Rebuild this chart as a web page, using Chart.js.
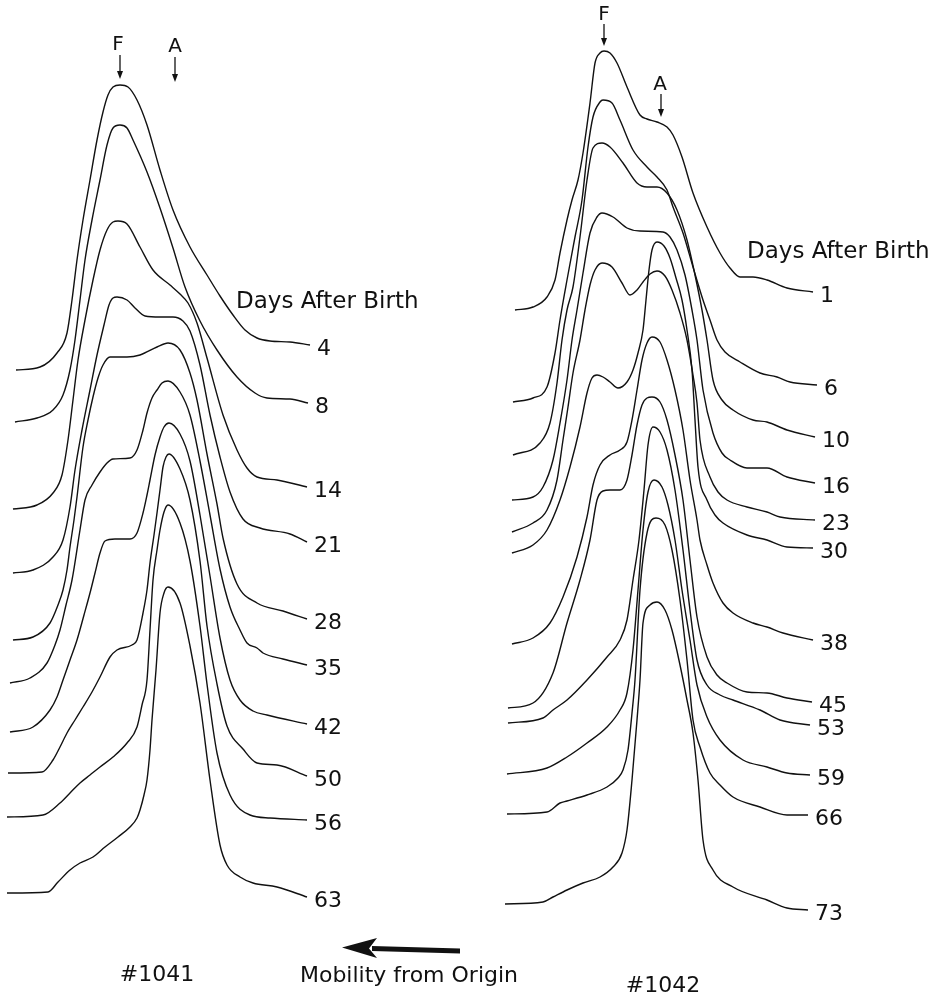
<!DOCTYPE html>
<html>
<head>
<meta charset="utf-8">
<script src="https://cdn.jsdelivr.net/npm/chart.js@4.4.1/dist/chart.umd.min.js"></script>
<style>
html,body{margin:0;padding:0;background:#fff;}
#wrap{width:936px;height:999px;}
</style>
</head>
<body>
<div id="wrap"><canvas id="chart"></canvas></div>
<script>
// densitometer traces as [mobility, height] pairs (figure units)
const days1041 = ['4','8','14','21','28','35','42','50','56','63'];
const trace1041 = [
  [[16,370],[40,367],[57,353],[67,333],[72,300],[77,260],[83,220],[90,180],[97,140],[103,112],[108,95],[113,87],[120,85],[128,87],[137,100],[147,125],[160,170],[173,210],[190,247],[207,275],[220,296],[233,315],[245,330],[257,338],[270,341],[290,342],[310,345]],
  [[15,422],[37,418],[53,410],[63,395],[70,370],[75,340],[80,300],[85,260],[92,220],[100,180],[107,145],[113,128],[120,125],[127,128],[133,140],[147,172],[160,208],[173,248],[185,287],[200,321],[217,350],[237,377],[255,393],[267,398],[290,399],[308,403]],
  [[13,509],[37,505],[53,493],[62,475],[68,440],[73,400],[78,360],[85,320],[93,280],[100,250],[107,230],[113,222],[118,221],[127,224],[140,247],[153,270],[170,285],[180,294],[188,303],[197,323],[207,358],[223,415],[237,450],[247,468],[257,477],[277,480],[307,487]],
  [[13,573],[33,570],[53,557],[63,540],[70,507],[75,470],[82,430],[90,390],[97,355],[104,325],[109,305],[113,298],[117,297],[127,300],[135,308],[145,316],[160,317],[173,317],[183,321],[190,331],[200,365],[210,415],[220,457],[230,492],[243,519],[260,528],[290,534],[307,542]],
  [[13,640],[33,637],[50,623],[58,605],[63,590],[67,570],[70,547],[74,520],[77,497],[83,447],[88,420],[93,397],[98,378],[103,365],[110,357],[127,357],[140,355],[157,347],[168,343],[180,350],[190,373],[197,400],[207,454],[217,504],[223,538],[237,584],[257,603],[283,611],[307,619]],
  [[10,683],[30,678],[47,663],[55,645],[60,630],[66,605],[72,580],[80,530],[85,500],[92,485],[100,472],[107,463],[113,459],[130,458],[137,450],[143,430],[147,413],[152,398],[157,390],[162,383],[168,381],[180,392],[190,415],[200,461],[210,515],[220,569],[230,607],[240,630],[247,643],[257,648],[263,653],[283,659],[307,665]],
  [[10,732],[33,727],[50,710],[57,697],[63,680],[70,660],[77,640],[84,615],[90,593],[95,573],[100,553],[105,541],[115,539],[130,539],[137,533],[143,513],[147,495],[150,480],[155,455],[160,437],[164,427],[169,423],[180,434],[190,461],[200,515],[210,576],[220,638],[230,680],[240,700],[253,711],[267,715],[307,724]],
  [[8,773],[42,772],[53,760],[60,747],[67,733],[75,720],[83,707],[92,692],[100,677],[110,657],[117,650],[132,645],[137,640],[143,613],[147,590],[150,563],[154,535],[157,513],[160,490],[163,467],[166,457],[169,454],[180,469],[190,500],[200,561],[207,626],[217,684],[227,726],[243,749],[257,763],[277,765],[307,776]],
  [[7,817],[43,815],[60,803],[70,793],[80,783],[90,775],[100,767],[113,757],[127,743],[137,727],[142,705],[147,680],[150,630],[153,580],[157,550],[160,530],[164,512],[168,505],[180,523],[190,561],[200,626],[207,684],[217,753],[230,795],[250,815],[270,818],[307,820]],
  [[7,893],[48,892],[58,882],[70,870],[80,863],[93,857],[105,847],[118,837],[130,827],[137,818],[140,810],[144,795],[147,780],[150,750],[152,720],[156,670],[160,613],[164,593],[168,587],[180,603],[190,646],[200,703],[210,780],[220,845],[227,865],[240,877],[253,883],[277,887],[307,897]]
];

const days1042 = ['1','6','10','16','23','30','38','45','53','59','66','73'];
const trace1042 = [
  [[515,310],[533,307],[547,297],[555,280],[560,253],[567,220],[572,200],[578,180],[583,153],[590,103],[595,63],[600,53],[604,51],[610,53],[617,63],[627,87],[640,115],[647,119],[657,122],[667,127],[673,135],[682,157],[693,193],[707,227],[720,253],[730,268],[740,277],[753,277],[767,280],[787,288],[813,292]],
  [[513,402],[533,398],[547,387],[555,353],[560,320],[567,280],[575,237],[582,200],[588,147],[593,117],[600,102],[603,100],[612,103],[620,120],[633,150],[647,167],[657,177],[667,190],[673,207],[683,233],[693,267],[703,300],[710,320],[717,340],[725,352],[740,362],[760,373],[777,377],[790,382],[817,385]],
  [[513,455],[540,443],[550,423],[557,383],[562,340],[567,310],[573,287],[580,237],[587,180],[593,148],[602,143],[610,147],[623,163],[637,183],[647,187],[657,187],[667,193],[677,210],[687,240],[695,275],[702,310],[707,340],[713,380],[722,400],[733,410],[753,420],[767,422],[787,430],[815,437]],
  [[512,500],[533,497],[543,487],[553,460],[560,423],[567,380],[572,340],[577,310],[583,273],[590,233],[597,217],[602,213],[613,217],[627,228],[640,231],[663,232],[670,237],[677,250],[685,275],[692,310],[697,340],[703,390],[713,433],[722,453],[730,460],[747,468],[767,468],[787,477],[815,483]],
  [[512,532],[533,523],[547,510],[557,480],[563,440],[568,407],[573,373],[580,340],[585,310],[590,285],[595,270],[602,263],[612,267],[622,283],[630,295],[637,290],[643,282],[650,274],[657,271],[665,276],[672,290],[680,313],[687,340],[693,375],[697,403],[700,440],[710,477],[718,492],[727,500],[747,507],[767,512],[780,517],[815,520]],
  [[512,553],[533,545],[547,530],[560,500],[570,467],[580,427],[587,393],[592,378],[597,375],[603,377],[610,382],[618,388],[627,382],[633,370],[638,353],[643,330],[646,300],[649,270],[652,250],[657,242],[664,246],[670,258],[676,278],[682,300],[687,330],[692,370],[695,420],[698,467],[707,500],[715,515],[723,523],[747,535],[767,540],[787,547],[813,548]],
  [[512,644],[533,638],[550,623],[563,597],[577,557],[587,517],[593,485],[600,465],[610,455],[620,450],[627,442],[632,420],[637,390],[642,360],[647,343],[652,337],[660,342],[667,360],[675,390],[683,430],[690,480],[697,520],[700,540],[707,565],[713,583],[723,603],[733,613],[753,623],[767,627],[783,633],[813,640]],
  [[508,708],[533,703],[553,673],[567,623],[580,580],[590,540],[597,500],[603,491],[610,490],[620,490],[627,480],[632,455],[637,425],[642,405],[647,398],[652,397],[660,402],[667,420],[675,455],[683,500],[690,560],[697,617],[707,657],[717,675],[727,683],[747,692],[767,693],[787,698],[812,702]],
  [[508,723],[543,718],[553,710],[567,700],[587,680],[607,657],[620,640],[627,620],[633,580],[639,540],[644,490],[648,445],[653,427],[660,432],[667,450],[675,490],[683,550],[690,610],[697,660],[707,685],[720,695],[733,700],[760,710],[780,720],[810,725]],
  [[507,774],[547,768],[567,757],[587,743],[607,727],[620,710],[627,693],[633,650],[638,590],[643,530],[648,492],[654,480],[662,487],[668,505],[675,540],[682,590],[690,640],[697,685],[707,717],[720,740],[743,760],[767,767],[787,773],[810,775]],
  [[507,814],[547,812],[560,803],[567,801],[587,795],[607,787],[618,778],[623,770],[628,750],[632,713],[635,680],[640,590],[647,533],[656,518],[665,525],[672,550],[680,600],[687,660],[693,720],[700,747],[710,773],[720,785],[733,797],[760,807],[787,815],[808,815]],
  [[505,904],[543,902],[553,897],[567,890],[583,883],[600,877],[613,867],[622,853],[627,830],[632,780],[637,720],[640,680],[643,623],[650,605],[657,602],[665,610],[672,630],[680,665],[687,700],[693,733],[698,780],[703,840],[713,870],[733,887],[767,900],[787,908],[808,910]]
];

// band markers (mobility of F and A fractions)
const bandNames = ['F','A'];
const bandPos1041 = [120,175];
const bandPos1042 = [604,661];

const datasets = [];
trace1041.concat(trace1042).forEach(t=>{
  datasets.push({
    data:t.map(p=>({x:p[0],y:p[1]})),
    showLine:true, borderColor:'#111', borderWidth:1.4,
    pointRadius:0, cubicInterpolationMode:'monotone', fill:false
  });
});

const FONT = '"DejaVu Sans", "Liberation Sans", sans-serif';

function downArrow(ctx,x,y1,y2){
  ctx.beginPath(); ctx.moveTo(x,y1); ctx.lineTo(x,y2-6); ctx.lineWidth=1.3; ctx.stroke();
  ctx.beginPath(); ctx.moveTo(x-3,y2-8); ctx.lineTo(x+3,y2-8); ctx.lineTo(x,y2); ctx.closePath(); ctx.fill();
}

const annotate = {
  id:'annotate',
  afterDatasetsDraw(chart){
    const {ctx, scales:{x, y}} = chart;
    const X = v=>x.getPixelForValue(v), Y = v=>y.getPixelForValue(v);
    ctx.save();
    ctx.fillStyle='#111'; ctx.strokeStyle='#111';
    ctx.font = '22px '+FONT;
    ctx.textBaseline='middle'; ctx.textAlign='left';
    // day labels at the right end of each trace
    [[trace1041,days1041],[trace1042,days1042]].forEach(([tr,lab])=>{
      tr.forEach((t,i)=>{
        const p = t[t.length-1];
        ctx.fillText(lab[i], X(p[0])+7, Y(p[1])+4);
      });
    });
    ctx.font = '23px '+FONT;
    ctx.fillText('Days After Birth', X(236), Y(302));
    ctx.fillText('Days After Birth', X(747), Y(252));

    // F / A markers
    ctx.font = '20px '+FONT;
    ctx.textAlign='center';
    ctx.fillText(bandNames[0], X(bandPos1041[0]-2), Y(45));
    downArrow(ctx, X(bandPos1041[0]), Y(55), Y(79));
    ctx.fillText(bandNames[1], X(bandPos1041[1]), Y(47));
    downArrow(ctx, X(bandPos1041[1]), Y(57), Y(82));
    ctx.fillText(bandNames[0], X(bandPos1042[0]), Y(15));
    downArrow(ctx, X(bandPos1042[0]), Y(24), Y(46));
    ctx.fillText(bandNames[1], X(bandPos1042[1]-1), Y(85));
    downArrow(ctx, X(bandPos1042[1]), Y(94), Y(117));

    // captions
    ctx.font = '22px '+FONT;
    ctx.fillText('#1041', X(157), Y(975));
    ctx.fillText('#1042', X(663), Y(986));
    ctx.fillText('Mobility from Origin', X(409), Y(976));

    // mobility arrow
    ctx.beginPath();
    ctx.moveTo(X(372),Y(946)); ctx.lineTo(X(460),Y(948.5));
    ctx.lineTo(X(460),Y(953.5)); ctx.lineTo(X(372),Y(951));
    ctx.closePath(); ctx.fill();
    ctx.beginPath();
    ctx.moveTo(X(342),Y(947.5)); ctx.lineTo(X(377),Y(938));
    ctx.lineTo(X(369),Y(948.5)); ctx.lineTo(X(377),Y(958));
    ctx.closePath(); ctx.fill();
    ctx.restore();
  }
};

new Chart(document.getElementById('chart'),{
  type:'scatter',
  data:{datasets},
  options:{
    responsive:true, maintainAspectRatio:false, animation:false,
    layout:{padding:0},
    scales:{
      x:{type:'linear', min:0, max:936, display:false},
      y:{type:'linear', min:0, max:999, reverse:true, display:false}
    },
    plugins:{legend:{display:false}, tooltip:{enabled:false}}
  },
  plugins:[annotate]
});
</script>
</body>
</html>
